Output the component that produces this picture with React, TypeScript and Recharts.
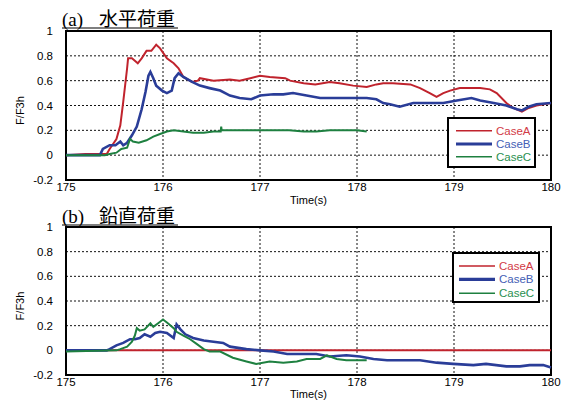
import React from 'react';
import { LineChart, Line, XAxis, YAxis, CartesianGrid, ReferenceArea, Legend } from 'recharts';

// ---- ticks / labels ----
const xTicks = [175, 176, 177, 178, 179, 180];
const yTicks = [-0.2, 0, 0.2, 0.4, 0.6, 0.8, 1];
const seriesNames = ['CaseA', 'CaseB', 'CaseC'];
const titlesA = ['(a)', '水平荷重'];
const titlesB = ['(b)', '鉛直荷重'];

// ---- (a) horizontal load ----
const topA_t = [175.0, 175.2, 175.42, 175.45, 175.52, 175.56, 175.59, 175.63, 175.64, 175.68, 175.74, 175.78, 175.83, 175.88, 175.93, 175.97, 176.04, 176.11, 176.16, 176.21, 176.3, 176.36, 176.38, 176.52, 176.69, 176.79, 176.9, 177.0, 177.1, 177.26, 177.31, 177.45, 177.57, 177.72, 177.82, 177.96, 178.1, 178.2, 178.27, 178.37, 178.55, 178.65, 178.75, 178.82, 178.89, 178.96, 179.06, 179.15, 179.27, 179.37, 179.44, 179.54, 179.61, 179.7, 179.77, 179.85, 180.0];
const topA_v = [0.0, 0.01, 0.01, 0.05, 0.13, 0.24, 0.43, 0.7, 0.78, 0.78, 0.74, 0.78, 0.84, 0.84, 0.89, 0.86, 0.78, 0.74, 0.7, 0.63, 0.59, 0.6, 0.62, 0.6, 0.61, 0.6, 0.62, 0.64, 0.63, 0.62, 0.6, 0.58, 0.57, 0.59, 0.58, 0.56, 0.55, 0.57, 0.58, 0.58, 0.57, 0.54, 0.5, 0.47, 0.5, 0.52, 0.54, 0.54, 0.54, 0.53, 0.5, 0.42, 0.38, 0.35, 0.38, 0.4, 0.42];

const topB_t = [175.0, 175.35, 175.38, 175.45, 175.51, 175.56, 175.59, 175.63, 175.68, 175.73, 175.78, 175.82, 175.85, 175.87, 175.9, 175.93, 175.99, 176.04, 176.09, 176.12, 176.16, 176.21, 176.3, 176.38, 176.48, 176.59, 176.69, 176.79, 176.91, 177.0, 177.14, 177.24, 177.34, 177.48, 177.62, 177.79, 177.96, 178.1, 178.2, 178.27, 178.34, 178.44, 178.58, 178.75, 178.89, 179.03, 179.18, 179.27, 179.41, 179.54, 179.65, 179.7, 179.77, 179.85, 180.0];
const topB_v = [0.0, 0.0, 0.05, 0.08, 0.08, 0.11, 0.08, 0.1, 0.16, 0.23, 0.37, 0.51, 0.64, 0.67, 0.62, 0.56, 0.52, 0.5, 0.52, 0.62, 0.66, 0.63, 0.59, 0.56, 0.54, 0.52, 0.48, 0.46, 0.45, 0.48, 0.49, 0.49, 0.5, 0.48, 0.46, 0.46, 0.46, 0.46, 0.45, 0.42, 0.41, 0.39, 0.42, 0.42, 0.42, 0.44, 0.46, 0.44, 0.42, 0.4, 0.37, 0.36, 0.39, 0.41, 0.42];

const topC_t = [175.0, 175.4, 175.45, 175.52, 175.57, 175.63, 175.66, 175.69, 175.75, 175.83, 175.9, 175.97, 176.04, 176.11, 176.21, 176.31, 176.42, 176.52, 176.595, 176.6, 176.605, 176.69, 177.0, 177.3, 177.45, 177.58, 177.72, 178.0, 178.1];
const topC_v = [0.0, 0.0, 0.01, 0.02, 0.05, 0.06, 0.13, 0.11, 0.1, 0.12, 0.15, 0.17, 0.19, 0.2, 0.19, 0.18, 0.18, 0.19, 0.19, 0.23, 0.2, 0.2, 0.2, 0.2, 0.19, 0.19, 0.2, 0.2, 0.19];

// ---- (b) vertical load ----
const botA_t = [175.0, 176.0, 177.0, 178.0, 179.0, 180.0];
const botA_v = [0.0, 0.0, 0.0, 0.0, 0.0, 0.0];

const botB_t = [175.0, 175.42, 175.45, 175.52, 175.59, 175.66, 175.71, 175.76, 175.81, 175.87, 175.92, 175.97, 176.04, 176.11, 176.14, 176.18, 176.23, 176.31, 176.42, 176.52, 176.62, 176.69, 176.86, 177.0, 177.14, 177.28, 177.45, 177.58, 177.72, 177.89, 178.03, 178.17, 178.31, 178.44, 178.65, 178.82, 178.99, 179.2, 179.33, 179.54, 179.68, 179.78, 179.92, 180.0];
const botB_v = [0.0, 0.0, 0.01, 0.04, 0.06, 0.09, 0.09, 0.1, 0.13, 0.11, 0.14, 0.15, 0.14, 0.1, 0.21, 0.17, 0.13, 0.1, 0.08, 0.07, 0.06, 0.03, 0.01, 0.0, -0.01, -0.03, -0.03, -0.03, -0.05, -0.04, -0.05, -0.07, -0.08, -0.08, -0.08, -0.1, -0.11, -0.12, -0.11, -0.13, -0.13, -0.12, -0.12, -0.14];

const botC_t = [175.0, 175.52, 175.56, 175.63, 175.68, 175.71, 175.73, 175.76, 175.81, 175.87, 175.9, 175.95, 176.0, 176.05, 176.11, 176.14, 176.21, 176.28, 176.35, 176.42, 176.48, 176.59, 176.72, 176.86, 176.96, 177.1, 177.24, 177.38, 177.48, 177.62, 177.69, 177.79, 177.89, 178.1];
const botC_v = [-0.01, 0.0, 0.01, 0.03, 0.07, 0.12, 0.18, 0.16, 0.17, 0.22, 0.19, 0.22, 0.25, 0.22, 0.18, 0.15, 0.12, 0.09, 0.05, 0.01, -0.01, -0.01, -0.06, -0.09, -0.11, -0.09, -0.1, -0.09, -0.07, -0.07, -0.04, -0.07, -0.08, -0.08];

const zip = (t: number[], v: number[]) => t.map((x, i) => ({ t: x, v: v[i] }));

const lineColors = ['#c0232d', '#2a3d98', '#1e8040'];
const lineWidths = [2, 2.6, 2];
const legendTextColors = ['#d23a46', '#4560b5', '#2a9050'];
const legendLineWidths = [1.5, 3.2, 1.5];

const tickFont = { fontFamily: 'Liberation Sans, Arial, sans-serif', fontSize: 11.5, fill: '#000' };

const LegendBox = ({ w, h, lx1, lx2, tx, rows }: any) => (
  <svg width={w} height={h} style={{ display: 'block' }}>
    <rect x={1} y={1} width={w - 2} height={h - 2} fill="#fff" stroke="#000" strokeWidth={2} />
    {seriesNames.map((n, i) => (
      <g key={n}>
        <line x1={lx1} x2={lx2} y1={rows[i]} y2={rows[i]} stroke={lineColors[i]} strokeWidth={legendLineWidths[i]} />
        <text x={tx} y={rows[i] + 4} fontFamily="Liberation Sans, Arial, sans-serif" fontSize={11.5} fill={legendTextColors[i]}>{n}</text>
      </g>
    ))}
  </svg>
);

type PanelProps = {
  top: number;
  height: number;
  axisH: number;
  title: string[];
  titleBase: number;
  series: { t: number; v: number }[][];
  legendPos: { left: number; top: number; w: number; h: number; lx1: number; lx2: number; tx: number; rows: number[] };
  xLabelDy: number;
};

const Panel = ({ top, height, axisH, title, titleBase, series, legendPos, xLabelDy }: PanelProps) => (
  <div style={{ position: 'absolute', left: 0, top, width: 567, height }}>
    <svg width={567} height={40} style={{ position: 'absolute', left: 0, top: 0 }}>
      <text x={62} y={titleBase} fontFamily="Liberation Serif, DejaVu Serif, serif" fontSize={19} fill="#000">{title[0]}</text>
      <text x={99} y={titleBase} fontFamily="Noto Sans CJK JP, sans-serif" fontSize={19} fill="#000">{title[1]}</text>
      <line x1={62} x2={178} y1={titleBase + 2} y2={titleBase + 2} stroke="#000" strokeWidth={1.2} />
    </svg>
    <LineChart width={567} height={height} margin={{ top: 31, right: 16, bottom: 0, left: 0 }} style={{ position: 'absolute', left: 0, top: 0 }}>
      <CartesianGrid stroke="#111" strokeDasharray="2 2" strokeWidth={1} />
      <XAxis
        type="number"
        dataKey="t"
        domain={[175, 180]}
        ticks={xTicks}
        height={axisH}
        axisLine={false}
        tickLine={false}
        tickSize={0}
        tickMargin={3}
        tick={tickFont}
        label={(p: any) => (
          <text x={p.viewBox.x + p.viewBox.width / 2} y={p.viewBox.y + xLabelDy} textAnchor="middle" fontFamily="Liberation Sans, Arial, sans-serif" fontSize={11} fill="#000">Time(s)</text>
        )}
      />
      <YAxis
        type="number"
        domain={[-0.2, 1]}
        ticks={yTicks}
        width={66}
        axisLine={false}
        tickLine={false}
        tickSize={0}
        tickMargin={13}
        tick={tickFont}
        tickFormatter={(v: number) => String(v)}
        label={(p: any) => {
          const cx = 20;
          const cy = p.viewBox.y + p.viewBox.height / 2 + 5;
          return (
            <text x={cx} y={cy} transform={`rotate(-90 ${cx} ${cy})`} textAnchor="middle" dominantBaseline="central" fontFamily="Liberation Sans, Arial, sans-serif" fontSize={11} fill="#000">F/F3h</text>
          );
        }}
      />
      {series.map((d, i) => (
        <Line key={seriesNames[i]} name={seriesNames[i]} data={d} dataKey="v" type="linear" stroke={lineColors[i]} strokeWidth={lineWidths[i]} dot={false} activeDot={false} isAnimationActive={false} />
      ))}
      <ReferenceArea x1={175} x2={180} y1={-0.2} y2={1} fill="none" fillOpacity={0} stroke="#000" strokeWidth={2} ifOverflow="visible" />
      <Legend
        layout="horizontal"
        verticalAlign="middle"
        align="center"
        wrapperStyle={{ left: legendPos.left, top: legendPos.top, width: legendPos.w, height: legendPos.h }}
        content={() => <LegendBox {...legendPos} />}
      />
    </LineChart>
  </div>
);

export default function App() {
  return (
    <div style={{ position: 'absolute', left: 0, top: 0, width: 567, height: 401, background: '#fff', overflow: 'hidden' }}>
      <Panel
        top={0}
        height={208}
        axisH={28}
        title={titlesA}
        titleBase={26}
        series={[zip(topA_t, topA_v), zip(topB_t, topB_v), zip(topC_t, topC_v)]}
        legendPos={{ left: 447, top: 117, w: 89, h: 51, lx1: 9, lx2: 45, tx: 49, rows: [13.7, 27, 39.7] }}
        xLabelDy={24}
      />
      <Panel
        top={196}
        height={205}
        axisH={26}
        title={titlesB}
        titleBase={27}
        series={[zip(botA_t, botA_v), zip(botB_t, botB_v), zip(botC_t, botC_v)]}
        legendPos={{ left: 452, top: 56, w: 88, h: 51, lx1: 7, lx2: 43, tx: 47, rows: [14, 27.3, 41.3] }}
        xLabelDy={23}
      />
    </div>
  );
}
